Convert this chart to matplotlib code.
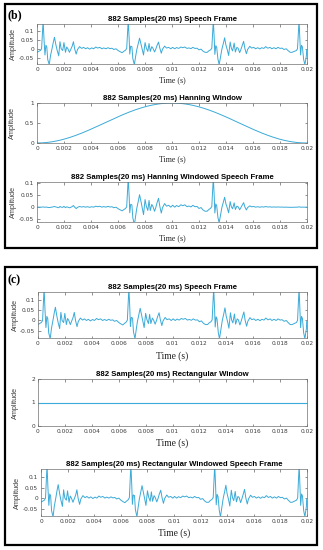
import numpy as np
import matplotlib
matplotlib.use('Agg')
import matplotlib.pyplot as plt
from matplotlib.patches import Rectangle
from matplotlib.ticker import FuncFormatter

# speech frame: time in ms, amplitude
speech_t_ms = [
    0.0, 0.12, 0.25, 0.35, 0.45, 0.52, 0.58, 0.65, 0.72, 0.8, 0.9, 1.0, 1.1, 1.2, 1.3, 1.4, 1.5, 1.6, 1.7, 1.8,
    1.9, 2.0, 2.1, 2.2, 2.3, 2.4, 2.5, 2.6, 2.7, 2.8, 2.9, 3.0, 3.15, 3.3, 3.45, 3.6, 3.75, 3.9, 4.05, 4.2,
    4.35, 4.5, 4.65, 4.8, 4.95, 5.1, 5.25, 5.4, 5.55, 5.7, 5.85, 6.0, 6.15,
    6.3, 6.42, 6.55, 6.65, 6.75, 6.82, 6.88, 6.95, 7.02, 7.1, 7.2, 7.3, 7.4, 7.5, 7.6, 7.7, 7.8, 7.9, 8.0, 8.1,
    8.2, 8.3, 8.4, 8.5, 8.6, 8.7, 8.8, 8.9, 9.0, 9.1, 9.2, 9.3, 9.45, 9.6, 9.75, 9.9, 10.05, 10.2, 10.35, 10.5,
    10.65, 10.8, 10.95, 11.1, 11.25, 11.4, 11.55, 11.7, 11.85, 12.0, 12.15, 12.3, 12.45,
    12.6, 12.72, 12.85, 12.95, 13.05, 13.12, 13.18, 13.25, 13.32, 13.4, 13.5, 13.6, 13.7, 13.8, 13.9, 14.0,
    14.1, 14.2, 14.3, 14.4, 14.5, 14.6, 14.7, 14.8, 14.9, 15.0, 15.1, 15.2, 15.3, 15.4, 15.5, 15.6, 15.75,
    15.9, 16.05, 16.2, 16.35, 16.5, 16.65, 16.8, 16.95, 17.1, 17.25, 17.4, 17.55, 17.7, 17.85, 18.0, 18.15,
    18.3, 18.45, 18.6, 18.75,
    18.9, 19.05, 19.2, 19.3, 19.4, 19.47, 19.53, 19.6, 19.67, 19.75, 19.85, 19.95, 20.0,
]
speech_amp = [
    -0.02, -0.015, -0.01, 0.0, 0.16, 0.05, -0.035, 0.02, 0.01, -0.06, -0.09, -0.04, 0.0, 0.035, 0.065, 0.02, -0.01, -0.04, 0.04, 0.0,
    -0.01, 0.035, -0.02, 0.01, 0.0, -0.02, -0.005, 0.015, 0.04, 0.0, -0.03, -0.005, 0.012, 0.002, 0.008, 0.0, 0.006, -0.002, 0.005, 0.0,
    0.01, 0.004, 0.008, 0.0, 0.005, 0.0, 0.006, 0.001, 0.003, -0.004, 0.0, -0.01, -0.016,
    -0.022, -0.015, -0.008, 0.002, 0.16, 0.06, -0.03, 0.015, 0.012, -0.055, -0.09, -0.045, -0.005, 0.03, 0.06, 0.025, -0.005, -0.035, 0.035, 0.005,
    -0.015, 0.03, -0.015, 0.012, 0.002, -0.018, -0.002, 0.018, 0.038, 0.005, -0.025, -0.002, 0.015, 0.004, 0.008, 0.0, 0.008, 0.0, 0.007, 0.002,
    0.01, 0.006, 0.01, 0.002, 0.005, 0.001, 0.008, 0.002, 0.003, -0.006, -0.002, -0.013, -0.02,
    -0.02, -0.012, -0.006, 0.003, 0.16, 0.055, -0.032, 0.018, 0.008, -0.058, -0.09, -0.042, -0.002, 0.032, 0.062, 0.022,
    -0.008, -0.038, 0.038, 0.002, -0.012, 0.032, -0.018, 0.008, 0.003, -0.022, -0.004, 0.016, 0.042, 0.002, -0.028, -0.004, 0.014,
    0.004, 0.008, 0.0, 0.006, -0.001, 0.006, 0.002, 0.012, 0.003, 0.008, 0.0, 0.006, 0.0, 0.008, 0.002, 0.004,
    -0.004, 0.0, -0.01, -0.02,
    -0.02, -0.015, -0.01, 0.0, 0.16, 0.05, -0.035, 0.02, 0.01, -0.06, -0.09, -0.04, -0.005,
]

n_samples = 882
fs = 44100
x_ticks = [0, 0.002, 0.004, 0.006, 0.008, 0.01, 0.012, 0.014, 0.016, 0.018, 0.02]
speech_yticks = [-0.05, 0, 0.05, 0.1]

line_color = '#3aaad8'
txt_color = '#3c3c3c'

idx = np.clip(np.round(np.array(speech_t_ms) * fs / 1000.0).astype(int), 0, n_samples - 1)
t_speech = idx / fs
x_speech = np.array(speech_amp)
t_full = np.arange(n_samples) / fs
hann = np.hanning(n_samples)
rect = np.ones(n_samples)
x_hann = x_speech * hann[idx]

W, H = 323, 550
fig = plt.figure(figsize=(W / 100, H / 100), dpi=100)
fig.patch.set_facecolor('white')


def add_ax(x0, y0, x1, y1):
    ax = fig.add_axes([x0 / W, 1 - y1 / H, (x1 - x0) / W, (y1 - y0) / H])
    ax.box_px = (x0, y0, x1, y1)
    return ax


def style(ax, title, ylim, yticks, xl_px, xl_size, yl_px):
    x0, y0, x1, y1 = ax.box_px
    ax.set_xlim(0, 0.02)
    ax.set_ylim(*ylim)
    ax.set_xticks(x_ticks)
    ax.set_yticks(yticks)
    g = FuncFormatter(lambda v, p: ('%g' % v))
    ax.xaxis.set_major_formatter(g)
    ax.yaxis.set_major_formatter(g)
    ax.tick_params(direction='in', length=1.8, width=0.4, top=True, right=True,
                   labelsize=4.2, colors=txt_color, pad=2.0)
    for s in ax.spines.values():
        s.set_linewidth(0.5)
        s.set_color('#707070')
    ax.set_title(title, fontsize=5.6, fontweight='bold', family='Liberation Sans', pad=2.2)
    ax.set_xlabel('Time (s)', family='Liberation Serif', fontsize=xl_size, color='#222222')
    ax.xaxis.set_label_coords(0.5, -(xl_px - y1) / (y1 - y0))
    ax.xaxis.label.set_va('center')
    ax.set_ylabel('Amplitude', family='Liberation Sans', fontsize=5.2, color=txt_color)
    ax.yaxis.set_label_coords(-(x0 - yl_px) / (x1 - x0), 0.5)
    ax.yaxis.label.set_va('center')


# panel (b)
ax = add_ax(37, 24, 307, 64)
ax.plot(t_speech, x_speech, color=line_color, lw=0.7)
style(ax, '882 Samples(20 ms) Speech Frame', (-0.086, 0.14), speech_yticks, 80, 5.7, 13)

ax = add_ax(37, 103, 307, 143)
ax.plot(t_full, hann, color=line_color, lw=0.7)
style(ax, '882 Samples(20 ms) Hanning Window', (0, 1), [0, 0.5, 1], 159, 5.7, 12)

ax = add_ax(37, 182, 307, 222)
ax.plot(t_speech, x_hann, color=line_color, lw=0.7)
style(ax, '882 Samples(20 ms) Hanning Windowed Speech Frame', (-0.062, 0.105), speech_yticks, 238, 5.7, 13)

# panel (c)
ax = add_ax(38, 292, 307, 338)
ax.plot(t_speech, x_speech, color=line_color, lw=0.7)
style(ax, '882 Samples(20 ms) Speech Frame', (-0.086, 0.14), speech_yticks, 356, 6.9, 15)

ax = add_ax(38, 379, 307, 426)
ax.plot(t_full, rect, color=line_color, lw=0.8)
style(ax, '882 Samples(20 ms) Rectangular Window', (0, 2), [0, 1, 2], 443, 6.9, 15)

ax = add_ax(41, 469, 307, 516)
ax.plot(t_speech, x_speech, color=line_color, lw=0.7)
style(ax, '882 Samples(20 ms) Rectangular Windowed Speech Frame', (-0.086, 0.14), speech_yticks, 533, 6.9, 17)

# frames and panel letters
for (x0, y0, x1, y1) in [(5, 4, 317, 248), (5, 267, 317, 545)]:
    fig.add_artist(Rectangle((x0 / W, 1 - y1 / H), (x1 - x0) / W, (y1 - y0) / H,
                             transform=fig.transFigure, fill=False, lw=1.6, ec='black'))
fig.text(7 / W, 1 - 15 / H, '(b)', family='Liberation Serif', fontweight='bold', fontsize=8.5, va='center')
fig.text(8 / W, 1 - 280 / H, '(c)', family='Liberation Serif', fontweight='bold', fontsize=8.5, va='center')

fig.savefig('out.png', dpi=100)
